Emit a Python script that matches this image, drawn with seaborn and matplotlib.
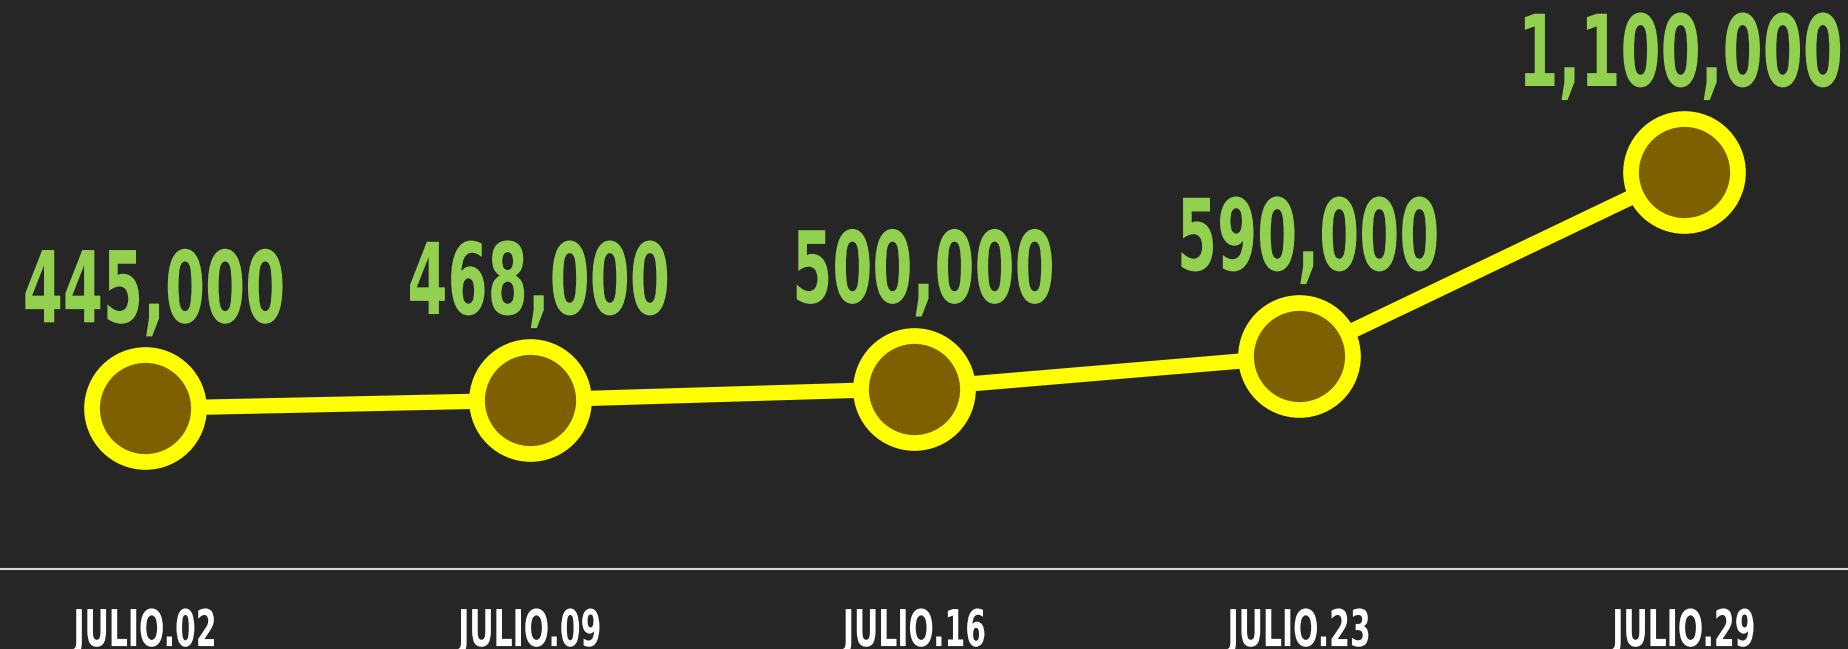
import matplotlib
matplotlib.use("Agg")
import matplotlib.pyplot as plt
import seaborn as sns
import pandas as pd
from matplotlib.patheffects import AbstractPathEffect
from matplotlib.transforms import Affine2D

dates = ["JULIO.02", "JULIO.09", "JULIO.16", "JULIO.23", "JULIO.29"]
values = [445000, 468000, 500000, 590000, 1100000]

BG = "#262626"
sns.set_theme(style="white")
plt.rcParams["font.family"] = ["DejaVu Sans"]


class Tall(AbstractPathEffect):
    """Stretch glyphs vertically about the baseline (gives a condensed look)."""
    def __init__(self, sy):
        super().__init__()
        self.sy = sy

    def draw_path(self, renderer, gc, tpath, affine, rgbFace=None):
        t = Affine2D().scale(1, self.sy) + affine
        renderer.draw_path(gc, tpath, t, rgbFace)


df = pd.DataFrame({"fecha": dates, "valor": values})

DPI = 100
fig = plt.figure(figsize=(18.49, 6.49), dpi=DPI, facecolor=BG)
ax = fig.add_axes([0, 80 / 649, 1, 569 / 649])
ax.set_facecolor(BG)

sns.lineplot(data=df, x="fecha", y="valor", ax=ax, color="#ffff00", linewidth=11,
             marker="o", markersize=77, markerfacecolor="#7f6000",
             markeredgecolor="#ffff00", markeredgewidth=11.3, sort=False)

anns = []
for i, v in enumerate(values):
    a = ax.annotate(f"{v:,}", (i, v), xytext=(6.5, 62), textcoords="offset points",
                    ha="center", va="baseline", color="#92d050", fontsize=41.5,
                    fontweight="bold", path_effects=[Tall(1.72)])
    anns.append(a)

ax.set_xlim(-0.377, 4.429)
ax.set_ylim(0, 1577000)
ax.set_yticks([])
ax.set_xlabel("")
ax.set_ylabel("")
for s in ["top", "left", "right"]:
    ax.spines[s].set_visible(False)
ax.spines["bottom"].set_color("#d9d9d9")
ax.spines["bottom"].set_linewidth(1.5)
ax.tick_params(axis="x", length=0, pad=55.5, labelsize=21.5, labelcolor="white")
for t in ax.get_xticklabels():
    t.set_fontweight("bold")
    t.set_verticalalignment("baseline")
    t.set_path_effects([Tall(1.70)])

# keep value labels inside the figure's right edge
fig.canvas.draw()
renderer = fig.canvas.get_renderer()
W = fig.bbox.width
for a in anns:
    bb = a.get_window_extent(renderer)
    if bb.x1 > W - 6:
        dx = (bb.x1 - (W - 6)) * 72 / DPI
        ox, oy = a.xyann
        a.xyann = (ox - dx, oy)

fig.savefig("out.png", dpi=DPI, facecolor=BG)
